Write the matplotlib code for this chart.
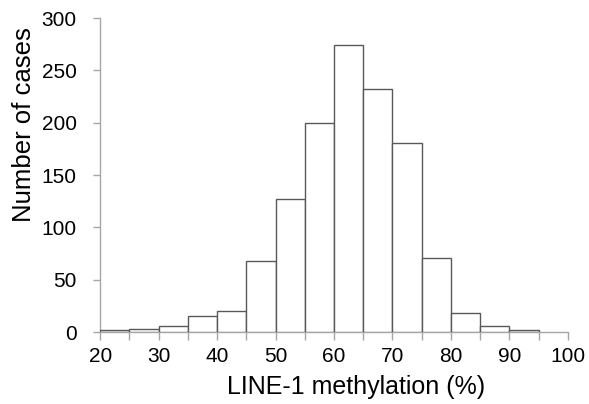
import numpy as np
import matplotlib.pyplot as plt

plt.rcParams['font.family'] = ['Liberation Sans', 'DejaVu Sans']

# LINE-1 methylation histogram (bins of 5%)
bin_edges = [20, 25, 30, 35, 40, 45, 50, 55, 60, 65, 70, 75, 80, 85, 90, 95]
counts = [2, 3, 6, 15, 20, 68, 127, 200, 274, 232, 181, 71, 18, 6, 2]
x_ticks = [20, 30, 40, 50, 60, 70, 80, 90, 100]
y_ticks = [0, 50, 100, 150, 200, 250, 300]

fig = plt.figure(figsize=(5.89, 4.04), dpi=100)
ax = fig.add_axes([0.170, 0.178, 0.794, 0.777])

axis_color = '#a6a6a6'
ax.bar(bin_edges[:-1], counts, width=np.diff(bin_edges), align='edge',
       color='white', edgecolor='#595959', linewidth=1.0, zorder=3)

ax.set_xlim(20, 100)
ax.set_ylim(0, 300)
ax.set_xticks(x_ticks)
ax.set_xticks(np.arange(20, 101, 5), minor=True)
ax.set_yticks(y_ticks)

for s in ['top', 'right']:
    ax.spines[s].set_visible(False)
for s in ['left', 'bottom']:
    ax.spines[s].set_color(axis_color)
    ax.spines[s].set_linewidth(1.0)

ax.tick_params(axis='both', which='both', colors=axis_color, labelcolor='black',
               direction='out', labelsize=15, length=6, width=1.0)
ax.tick_params(axis='x', which='both', pad=5)
ax.tick_params(axis='y', length=5, pad=12)

ax.set_xlabel('LINE-1 methylation (%)', fontsize=18, labelpad=8)
ax.set_ylabel('Number of cases', fontsize=18.5, labelpad=6)
ax.xaxis.set_label_coords(0.547, -0.137, transform=ax.transAxes)
ax.yaxis.set_label_coords(-0.137, 0.66, transform=ax.transAxes)
ax.xaxis.label.set_va('top')

fig.savefig('out.png', dpi=100)
